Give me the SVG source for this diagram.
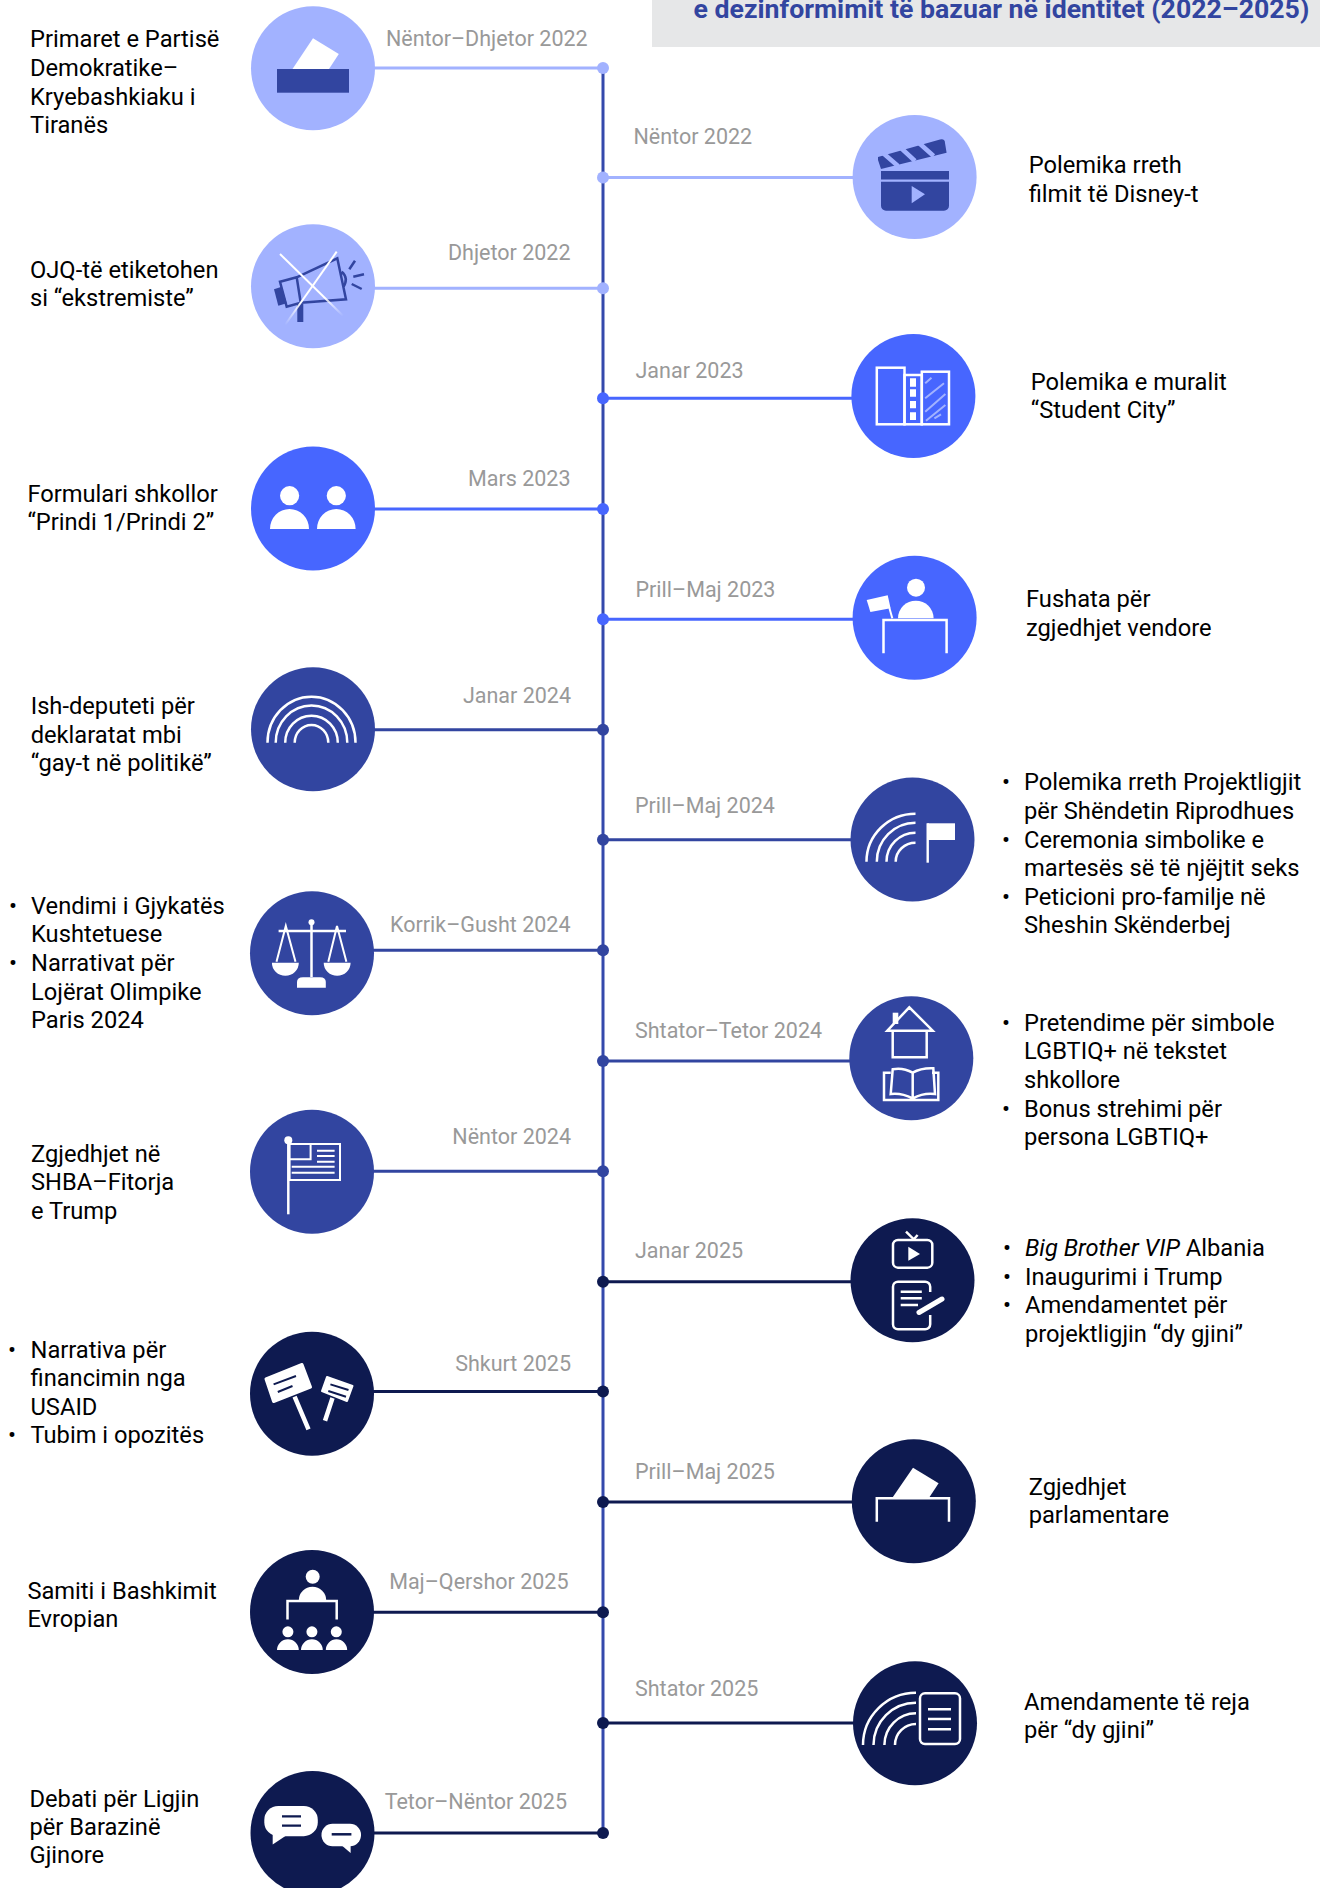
<svg xmlns="http://www.w3.org/2000/svg" width="1320" height="1888" viewBox="0 0 1320 1888">
<style>
text{font-family:Roboto,"Noto Sans",sans-serif}
.t{font-size:23.7px;fill:#000}
.d{font-size:21.5px;fill:#999}
.e{text-anchor:end}
.h{font-size:26.7px;font-weight:700;fill:#3245a0}
.c1{fill:#a2b2ff}.c2{fill:#4766ff}.c3{fill:#3245a0}.c4{fill:#0e1a50}
.l{stroke-width:3;fill:none}
.l1{stroke:#a2b2ff}.l2{stroke:#4766ff}.l3{stroke:#3245a0}.l4{stroke:#0e1a50}
.w{fill:#fff}
.s{fill:none;stroke:#fff;stroke-width:2.5}
</style>
<defs>
<linearGradient id="xa" gradientUnits="userSpaceOnUse" x1="280" y1="254" x2="343.3" y2="316"><stop offset="0" stop-color="#fff"/><stop offset="0.7" stop-color="#fff"/><stop offset="1" stop-color="#fff" stop-opacity="0"/></linearGradient>
<linearGradient id="xb" gradientUnits="userSpaceOnUse" x1="336.7" y1="251.7" x2="285" y2="325"><stop offset="0" stop-color="#fff"/><stop offset="0.7" stop-color="#fff"/><stop offset="1" stop-color="#fff" stop-opacity="0"/></linearGradient>
</defs>
<rect width="1320" height="1888" fill="#fff"/>
<g id="title">
<rect x="652" y="0" width="668" height="47" fill="#e6e7e8"/>
<text class="h" x="693.5" y="18">e dezinformimit të bazuar në identitet (2022–2025)</text>
</g>
<g id="connectors">
<line x1="603" y1="68" x2="603" y2="1833" stroke="#3449ac" stroke-width="3"/>
<line class="l l1" x1="313" y1="68" x2="603" y2="68"/><circle class="c1" cx="603" cy="68" r="6"/>
<line class="l l1" x1="603" y1="177.5" x2="915" y2="177.5"/><circle class="c1" cx="603" cy="177.5" r="6"/>
<line class="l l1" x1="313" y1="288.3" x2="603" y2="288.3"/><circle class="c1" cx="603" cy="288.3" r="6"/>
<line class="l l2" x1="603" y1="398.3" x2="913" y2="398.3"/><circle class="c2" cx="603" cy="398.3" r="6"/>
<line class="l l2" x1="313" y1="509" x2="603" y2="509"/><circle class="c2" cx="603" cy="509" r="6"/>
<line class="l l2" x1="603" y1="619.3" x2="915" y2="619.3"/><circle class="c2" cx="603" cy="619.3" r="6"/>
<line class="l l3" x1="313" y1="729.7" x2="603" y2="729.7"/><circle class="c3" cx="603" cy="729.7" r="6"/>
<line class="l l3" x1="603" y1="839.7" x2="912" y2="839.7"/><circle class="c3" cx="603" cy="839.7" r="6"/>
<line class="l l3" x1="312" y1="950.3" x2="603" y2="950.3"/><circle class="c3" cx="603" cy="950.3" r="6"/>
<line class="l l3" x1="603" y1="1061" x2="911" y2="1061"/><circle class="c3" cx="603" cy="1061" r="6"/>
<line class="l l3" x1="312" y1="1171.3" x2="603" y2="1171.3"/><circle class="c3" cx="603" cy="1171.3" r="6"/>
<line class="l l4" x1="603" y1="1281.8" x2="912" y2="1281.8"/><circle class="c4" cx="603" cy="1281.8" r="6"/>
<line class="l l4" x1="312" y1="1391.5" x2="603" y2="1391.5"/><circle class="c4" cx="603" cy="1391.5" r="6"/>
<line class="l l4" x1="603" y1="1502" x2="914" y2="1502"/><circle class="c4" cx="603" cy="1502" r="6"/>
<line class="l l4" x1="312" y1="1612.2" x2="603" y2="1612.2"/><circle class="c4" cx="603" cy="1612.2" r="6"/>
<line class="l l4" x1="603" y1="1723" x2="915" y2="1723"/><circle class="c4" cx="603" cy="1723" r="6"/>
<line class="l l4" x1="312" y1="1833" x2="603" y2="1833"/><circle class="c4" cx="603" cy="1833" r="6"/>
</g>

<g id="n-l1">
<circle class="c1" cx="313" cy="68.3" r="62"/>
<polygon class="w" points="313,38.3 338.8,54 329,69 292.5,69"/>
<rect class="c3" x="277" y="69" width="72" height="23.7"/>
<text class="d" x="386" y="46">Nëntor–Dhjetor 2022</text>
<text class="t" x="30" y="46.7">Primaret e Partisë</text><text class="t" x="30" y="75.5">Demokratike–</text><text class="t" x="30" y="104.5">Kryebashkiaku i</text><text class="t" x="30" y="133">Tiranës</text>
</g>
<g id="n-r1">
<circle class="c1" cx="914.6" cy="177" r="62"/>
<path class="c3" d="M881,171H949V179.5H881ZM881,181.7H949V205.7a5,5 0 0 1-5,5H886a5,5 0 0 1-5-5Z"/>
<polygon class="c1" points="911.7,186 925,194.3 911.7,203.3"/>
<path class="c3" d="M878,157L940,139.5Q945,138.5 945,143L946.6,152.7L881,169L878,160Z"/>
<path fill="none" stroke="#a2b2ff" stroke-width="4.5" d="M883,153L898,166M901,148L915,161M919,143L933.6,156"/>
<text class="d" x="633.5" y="144.3">Nëntor 2022</text>
<text class="t" x="1028.7" y="172.7">Polemika rreth</text><text class="t" x="1028.7" y="202">filmit të Disney-t</text>
</g>
<g id="n-l2">
<circle class="c1" cx="313" cy="286.3" r="62"/>
<path class="c3" d="M274,289.3L281.7,286.7L286.7,303.3L278.3,305.7Z"/>
<path d="M280,281.7L296.7,277.3L337.3,258.3L346,299.3L300.7,302.7L286.7,306.7ZM296.7,277.3L300.7,302.7M341.7,271.7Q349,278 343.3,287.3" fill="none" stroke="#3245a0" stroke-width="2.5"/>
<rect class="c3" x="297.3" y="304" width="6" height="18"/>
<path d="M349.3,269.3L355,260.7M353.3,276.7L364,274.3M351.7,284L361.7,289" fill="none" stroke="#3245a0" stroke-width="2.5"/>
<path d="M280,254L343.3,316" stroke="url(#xa)" stroke-width="2" fill="none"/>
<path d="M336.7,251.7L285,325" stroke="url(#xb)" stroke-width="2" fill="none"/>
<text class="d e" x="570.5" y="260">Dhjetor 2022</text>
<text class="t" x="30" y="278.3">OJQ-të etiketohen</text><text class="t" x="30" y="306">si “ekstremiste”</text>
</g>
<g id="n-r2">
<circle class="c2" cx="913.4" cy="396" r="62"/>
<rect class="s" x="876.8" y="367.7" width="27.7" height="56.6"/>
<rect class="s" x="904.5" y="375" width="17.3" height="49.3"/>
<rect class="s" x="921.8" y="371.7" width="27.2" height="52.6"/>
<path class="w" d="M910,378.3h6v8.4h-6zM910,389.3h6v7.4h-6zM910,401h6v7.3h-6zM910,412.3h6v7.7h-6z"/>
<path d="M925.2,383.3L931.5,377.7M925.2,398.3L944,383.3M925.2,411.7L945.4,394M926,420.7L945.4,405M934.4,418.3L941,414.3" fill="none" stroke="#a2b2ff" stroke-width="2"/>
<text class="d" x="635.5" y="378">Janar 2023</text>
<text class="t" x="1030.8" y="390">Polemika e muralit</text><text class="t" x="1030.8" y="418.3">“Student City”</text>
</g>
<g id="n-l3">
<circle class="c2" cx="313" cy="508.5" r="62"/>
<circle class="w" cx="289.6" cy="495.7" r="9.6"/><circle class="w" cx="336.3" cy="495.7" r="9.6"/>
<path class="w" d="M270,529A19.5,20 0 0 1 309,529ZM317,529A19.3,20 0 0 1 355.6,529Z"/>
<text class="d e" x="570.5" y="486">Mars 2023</text>
<text class="t" x="27.4" y="501.7">Formulari shkollor</text><text class="t" x="27.4" y="530.3">“Prindi 1/Prindi 2”</text>
</g>
<g id="n-r3">
<circle class="c2" cx="914.6" cy="617.8" r="62"/>
<circle class="w" cx="916" cy="587.7" r="9"/>
<path class="w" d="M898,618.3A17.8,17.6 0 0 1 933.6,618.3Z"/>
<path class="s" d="M883.5,653.3V620H946.6V653.3"/>
<polygon class="w" points="866.7,600 887.7,595.3 890.6,608.3 870.4,612"/>
<path d="M889.4,608L892.3,618.3" stroke="#fff" stroke-width="2"/>
<text class="d" x="635.5" y="596.7">Prill–Maj 2023</text>
<text class="t" x="1026" y="607">Fushata për</text><text class="t" x="1026" y="636">zgjedhjet vendore</text>
</g>
<g id="n-l4">
<circle class="c3" cx="313" cy="729.3" r="62"/>
<path class="s" d="M267.5,742.7A44,46 0 0 1 355.5,742.7M275.7,742.7A35.8,37.3 0 0 1 347.3,742.7M285.2,742.7A26.3,27 0 0 1 337.8,742.7M294.7,742.7A16.8,17.7 0 0 1 328.3,742.7"/>
<text class="d e" x="571" y="703">Janar 2024</text>
<text class="t" x="30.7" y="714">Ish-deputeti për</text><text class="t" x="30.7" y="742.7">deklaratat mbi</text><text class="t" x="30.7" y="771.3">“gay-t në politikë”</text>
</g>
<g id="n-r4">
<circle class="c3" cx="912.5" cy="839.5" r="62"/>
<path class="s" d="M866.5,861.7A49,48 0 0 1 915.5,813.7M876.8,861.7A38.7,39 0 0 1 915.5,822.7M886.5,861.7A29,29 0 0 1 915.5,832.7M895.7,861.7A19.8,19 0 0 1 915.5,842.7"/>
<rect class="w" x="926.5" y="823.3" width="2.4" height="39.4"/>
<rect class="w" x="927.3" y="823.3" width="27.7" height="16.7"/>
<text class="d" x="635" y="812.7">Prill–Maj 2024</text>
<text class="t" x="1006" y="790" text-anchor="middle">•</text><text class="t" x="1024" y="790">Polemika rreth Projektligjit</text><text class="t" x="1024" y="819">për Shëndetin Riprodhues</text><text class="t" x="1006" y="847.7" text-anchor="middle">•</text><text class="t" x="1024" y="847.7">Ceremonia simbolike e</text><text class="t" x="1024" y="876.3">martesës së të njëjtit seks</text><text class="t" x="1006" y="905" text-anchor="middle">•</text><text class="t" x="1024" y="905">Peticioni pro-familje në</text><text class="t" x="1024" y="933.3">Sheshin Skënderbej</text>
</g>
<g id="n-l5">
<circle class="c3" cx="312" cy="953.3" r="62"/>
<circle class="w" cx="311.5" cy="922.3" r="3"/>
<path class="s" d="M311.5,923V977M278.6,931H346"/>
<path d="M276.5,961.7L285.8,926L295.5,961.7M328.3,961.7L337,926L346.4,961.7" fill="none" stroke="#fff" stroke-width="2"/>
<path class="w" d="M271.9,962.7H298.8A13.4,13 0 0 1 271.9,962.7ZM323.7,962.7H350.6A13.4,13 0 0 1 323.7,962.7Z"/>
<path class="w" d="M297,987.7V982Q297,977.3 303,977.3H320Q325.8,977.3 325.8,982V987.7Z"/>
<text class="d e" x="570.5" y="932">Korrik–Gusht 2024</text>
<text class="t" x="13" y="914" text-anchor="middle">•</text><text class="t" x="31" y="914">Vendimi i Gjykatës</text><text class="t" x="31" y="942">Kushtetuese</text><text class="t" x="13" y="971" text-anchor="middle">•</text><text class="t" x="31" y="971">Narrativat për</text><text class="t" x="31" y="999.5">Lojërat Olimpike</text><text class="t" x="31" y="1028">Paris 2024</text>
</g>
<g id="n-r5">
<circle class="c3" cx="911.3" cy="1058.3" r="62"/>
<rect class="w" x="892.7" y="1012.7" width="5.6" height="11.3"/>
<path class="s" d="M887.3,1030.7H932.7L909.3,1007.3L887.3,1030.7ZM892.7,1030.7V1057.3H926.7V1030.7"/>
<path class="s" d="M890.7,1072.7H884V1100H938.3V1072.7H932M912.7,1072.7C906,1069 899,1068 892.7,1069.3L890.7,1094C898,1093 906,1095 912.7,1098.3ZM912.7,1072.7C919,1069 926,1068 933.3,1068.3L935,1094C928,1093 919,1095 912.7,1098.3"/>
<text class="d" x="635" y="1038">Shtator–Tetor 2024</text>
<text class="t" x="1006" y="1031" text-anchor="middle">•</text><text class="t" x="1024" y="1031">Pretendime për simbole</text><text class="t" x="1024" y="1059">LGBTIQ+ në tekstet</text><text class="t" x="1024" y="1088">shkollore</text><text class="t" x="1006" y="1117" text-anchor="middle">•</text><text class="t" x="1024" y="1117">Bonus strehimi për</text><text class="t" x="1024" y="1145">persona LGBTIQ+</text>
</g>
<g id="n-l6">
<circle class="c3" cx="312" cy="1171.7" r="62"/>
<path class="s" d="M288.3,1138V1214.3"/>
<circle class="w" cx="288.3" cy="1140.3" r="4"/>
<path d="M289.6,1144H340V1180H289.6ZM289.6,1159.3H310.6V1144M317,1150.7H334.6M317,1156H334.6M317,1161.7H334.6M291.7,1166.7H334.6M291.7,1172.7H334.6" fill="none" stroke="#fff" stroke-width="2"/>
<text class="d e" x="571" y="1144">Nëntor 2024</text>
<text class="t" x="31" y="1161.7">Zgjedhjet në</text><text class="t" x="31" y="1190">SHBA–Fitorja</text><text class="t" x="31" y="1218.7">e Trump</text>
</g>
<g id="n-r6">
<circle class="c4" cx="912.5" cy="1280.3" r="62"/>
<rect class="s" x="893" y="1240" width="39.3" height="27.7" rx="5"/>
<polygon class="w" points="908.3,1246.7 920,1254 908.3,1260.7"/>
<path d="M906,1231.7L913.8,1239.3L917.6,1235" fill="none" stroke="#fff" stroke-width="2.5"/>
<path class="s" d="M930.2,1292V1286.7a5,5 0 0 0-5-5H898a5,5 0 0 0-5,5V1324.3a5,5 0 0 0 5,5H925.2a5,5 0 0 0 5-5V1315"/>
<path d="M900.7,1291.7H921.8M900.7,1298.3H921.8M900.7,1305H918" fill="none" stroke="#fff" stroke-width="2.5"/>
<path d="M919,1312.5L942,1299" stroke="#fff" stroke-width="5" stroke-linecap="round"/>
<text class="d" x="635" y="1258">Janar 2025</text>
<text class="t" x="1007" y="1255.7" text-anchor="middle">•</text><text class="t" x="1025" y="1255.7"><tspan font-style="italic">Big Brother VIP</tspan> Albania</text><text class="t" x="1007" y="1285" text-anchor="middle">•</text><text class="t" x="1025" y="1285">Inaugurimi i Trump</text><text class="t" x="1007" y="1313.3" text-anchor="middle">•</text><text class="t" x="1025" y="1313.3">Amendamentet për</text><text class="t" x="1025" y="1342.3">projektligjin “dy gjini”</text>
</g>
<g id="n-l7">
<circle class="c4" cx="312" cy="1393.7" r="62"/>
<path class="w" stroke="#fff" stroke-width="3" stroke-linejoin="round" d="M266,1379L302,1364.5L310.5,1387L273.6,1401.5Z"/>
<path d="M294.6,1396.7L308.5,1429.4M332.5,1398L325,1420.7" stroke="#fff" stroke-width="4.5" fill="none"/>
<path class="w" stroke="#fff" stroke-width="2" stroke-linejoin="round" d="M327,1377L352.5,1386L347,1401L322,1391Z"/>
<path d="M273.6,1384.4L296,1376M277.8,1392L292.5,1386M330.4,1384.4L348.5,1390M328.3,1391L346,1396.7" stroke="#0e1a50" stroke-width="2" fill="none"/>
<text class="d e" x="571" y="1371">Shkurt 2025</text>
<text class="t" x="12" y="1358" text-anchor="middle">•</text><text class="t" x="30.5" y="1358">Narrativa për</text><text class="t" x="30.5" y="1386">financimin nga</text><text class="t" x="30.5" y="1414.7">USAID</text><text class="t" x="12" y="1443" text-anchor="middle">•</text><text class="t" x="30.5" y="1443">Tubim i opozitës</text>
</g>
<g id="n-r7">
<circle class="c4" cx="913.8" cy="1501.3" r="62"/>
<polygon class="w" points="913,1467.7 938.6,1483.3 929.4,1497.3 892.7,1497.3"/>
<path class="s" d="M876.8,1521.7V1498.3H949V1521.7"/>
<text class="d" x="635" y="1479">Prill–Maj 2025</text>
<text class="t" x="1028.7" y="1495">Zgjedhjet</text><text class="t" x="1028.7" y="1523.3">parlamentare</text>
</g>
<g id="n-l8">
<circle class="c4" cx="312" cy="1612" r="62"/>
<circle class="w" cx="312.7" cy="1576.7" r="7"/>
<path class="w" d="M298.8,1600A13.7,13.2 0 0 1 326.2,1600Z"/>
<path class="s" d="M287.5,1619.5V1601H336.7V1619.5"/>
<circle class="w" cx="287.9" cy="1631.8" r="5.5"/><circle class="w" cx="311.9" cy="1631.8" r="5.5"/><circle class="w" cx="336.3" cy="1631.8" r="5.5"/>
<path class="w" d="M277,1650A10.9,10.7 0 0 1 298.8,1650ZM301,1650A10.9,10.7 0 0 1 322.8,1650ZM325.8,1650A10.7,10.7 0 0 1 347.2,1650Z"/>
<text class="d e" x="568.5" y="1588.7">Maj–Qershor 2025</text>
<text class="t" x="27.4" y="1599">Samiti i Bashkimit</text><text class="t" x="27.4" y="1627.3">Evropian</text>
</g>
<g id="n-r8">
<circle class="c4" cx="915" cy="1723.2" r="62"/>
<path class="s" d="M863,1745A53,52.3 0 0 1 916,1692.7M873.5,1745A42.5,42.3 0 0 1 916,1702.7M884.4,1745A31.6,31.7 0 0 1 916,1713.3M895,1745A21,21 0 0 1 916,1724"/>
<rect class="s" x="920" y="1693.3" width="40" height="50.7" rx="5"/>
<path class="s" d="M928,1709.3H951M928,1719H951M928,1729.3H951"/>
<text class="d" x="635" y="1695.6">Shtator 2025</text>
<text class="t" x="1024" y="1710">Amendamente të reja</text><text class="t" x="1024" y="1738.3">për “dy gjini”</text>
</g>
<g id="n-l9">
<circle class="c4" cx="312.5" cy="1833" r="62"/>
<rect class="w" x="264.3" y="1806" width="53.5" height="30.2" rx="14"/>
<polygon class="w" points="272.7,1832 272.7,1844.4 286.2,1835.5"/>
<path d="M282,1816.4H301M282,1825.7H301" stroke="#0e1a50" stroke-width="2.2"/>
<rect class="w" x="321.5" y="1823.8" width="39.5" height="22.5" rx="11"/>
<polygon class="w" points="341.8,1845.6 350.6,1853 350.6,1845.6"/>
<path d="M331.7,1834.3H351.4" stroke="#0e1a50" stroke-width="2.5"/>
<text class="d e" x="567" y="1809">Tetor–Nëntor 2025</text>
<text class="t" x="29.5" y="1806.6">Debati për Ligjin</text><text class="t" x="29.5" y="1835.4">për Barazinë</text><text class="t" x="29.5" y="1863">Gjinore</text>
</g>
</svg>
